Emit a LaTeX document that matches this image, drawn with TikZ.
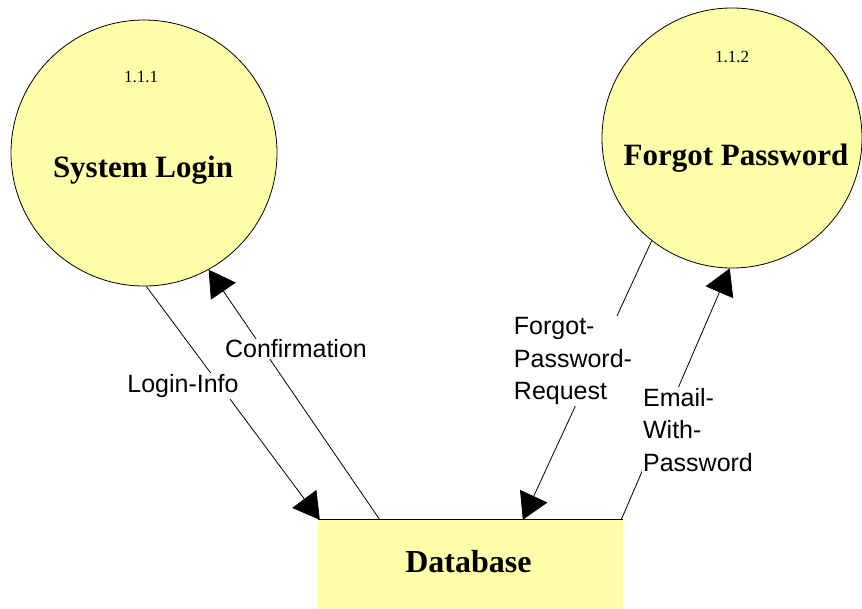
\documentclass[tikz,border=0pt]{standalone}
\usepackage{fontspec}
\setmainfont{Liberation Serif}
\setsansfont{Liberation Sans}
\usetikzlibrary{arrows.meta}
\definecolor{bubble}{RGB}{255,255,170}
\begin{document}
\begin{tikzpicture}[x=1pt,y=-1pt,
	proc/.style={circle,draw,line width=0.8pt,fill=bubble,minimum size=#1,inner sep=0pt},
	title/.style={font=\fontsize{31}{32}\selectfont\bfseries,anchor=base},
	num/.style={font=\fontsize{17}{18}\selectfont,anchor=base},
	flow/.style={line width=0.8pt,-{Triangle[length=26pt,width=30pt]}},
	lbl/.style={fill=white,inner sep=1pt,align=left,font=\sffamily\fontsize{25}{32.5}\selectfont}]
	\useasboundingbox (0,0) rectangle (862,608);
	\node[proc=266pt] (login) at (144,153) {};
	\node[proc=260pt] (forgot) at (732,138) {};
	\node[fill=bubble,minimum width=305pt,minimum height=90pt] (db) at (470.5,565) {};
	\draw[line width=0.8pt] (db.north west) -- (db.north east);
	\node[num] (loginnum) at (141,82) {1.1.1};
	\node[title] (logintitle) at (143,177) {System Login};
	\node[num] (forgotnum) at (732,62) {1.1.2};
	\node[title] (forgottitle) at (736,165) {Forgot Password};
	\node[title,font=\fontsize{32}{33}\selectfont\bfseries] (dbtitle) at (468.5,572) {Database};
	\draw[flow] (login.-89) -- ([xshift=2pt]db.north west);
	\draw[flow] ([xshift=62pt]db.north west) -- (login.-61);
	\draw[flow] (forgot.-128) -- ([xshift=205pt]db.north west);
	\draw[flow] ([xshift=-2pt]db.north east) -- (forgot.-91);
	\node[lbl] (logininfo) at (183,386) {Login-Info};
	\node[lbl] (confirm) at (296,349) {Confirmation};
	\node[lbl] (request) at (573,361) {Forgot-\\Password-\\Request};
	\node[lbl] (email) at (698,430) {Email-\\With-\\Password};
\end{tikzpicture}
\end{document}
